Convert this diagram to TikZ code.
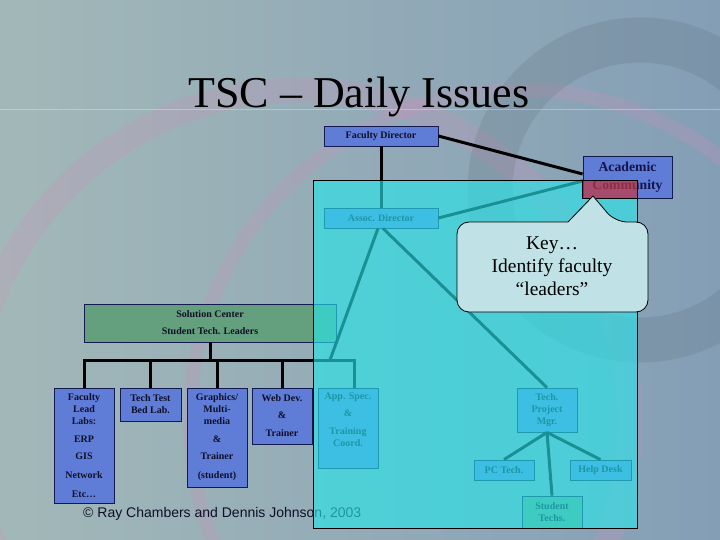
\documentclass[tikz,border=0pt]{standalone}
\usepackage{fontspec}
\setmainfont{Liberation Serif}
\setsansfont{Liberation Sans}
\usepackage{xcolor}
\usepackage{tikz}

\definecolor{bgleft}{RGB}{162,184,184}
\definecolor{bgright}{RGB}{132,158,182}
\definecolor{boxblue}{RGB}{95,125,215}
\definecolor{boxline}{RGB}{20,25,80}
\definecolor{boxgreen}{RGB}{100,160,125}
\definecolor{boxtext}{RGB}{15,15,40}
\definecolor{tealtint}{RGB}{40,230,235}
\definecolor{redtint}{RGB}{195,55,65}
\definecolor{keyfill}{RGB}{192,226,230}
\definecolor{acadtext}{RGB}{20,20,75}
\definecolor{pinkring}{RGB}{205,145,185}
\definecolor{darkring}{RGB}{85,100,110}

\pgfdeclarelayer{backdrop}
\pgfdeclarelayer{tint}
\pgfdeclarelayer{front}
\pgfsetlayers{backdrop,main,tint,front}

\begin{document}
\begin{tikzpicture}[x=1pt,y=-1pt,
    orgbox/.style={draw=boxline, fill=boxblue, line width=0.8pt, inner sep=0pt, align=center,
      text=boxtext, font=\bfseries\fontsize{10}{12}\selectfont},
    orgline/.style={line width=3pt, black}]
            \useasboundingbox (0,0) rectangle (720,540);
            % slide background
            \begin{pgfonlayer}{backdrop}
            \shade [left color=bgleft, right color=bgright] (0,0) rectangle (720,540);
            \begin{scope}
            \clip (0,0) rectangle (720,540);
            \draw [line width=25, pinkring, opacity=.25] (300,420) circle (330);
            \draw [line width=14, pinkring, opacity=.25] (520,420) circle (330);
            \draw [line width=45, darkring, opacity=.18] (640,190) circle (150);
            \draw [line width=1, white, opacity=.3] (0,110) -- (720,110);
            \end{scope}
            \end{pgfonlayer}
            \node [font=\fontsize{44}{44}\selectfont, anchor=base] (title) at (359,108) {TSC – Daily Issues};
            % boxes
            \begin{pgfonlayer}{front}
            \node [orgbox, font=\bfseries\fontsize{13.7}{18}\selectfont, text=acadtext, minimum width=89, minimum height=42] (acad) at (627.5,177) {Academic\\Community};
            \end{pgfonlayer}
            \node [orgbox, minimum width=114, minimum height=20] (fdir) at (381,136) {Faculty Director};
            \node [orgbox, minimum width=114, minimum height=20] (adir) at (381,218) {Assoc. Director};
            \node [orgbox, fill=boxgreen, minimum width=252, minimum height=38] (solc) at (210,323) {Solution Center\\[5pt]Student Tech. Leaders};
            \node [orgbox, minimum width=60, minimum height=115] (flab) at (84,445.5) {Faculty\\Lead\\Labs:\\[6pt]ERP\\[5pt]GIS\\[7pt]Network\\[7pt]Etc…};
            \node [orgbox, minimum width=61, minimum height=33] (ttest) at (150.5,404.5) {Tech Test\\Bed Lab.};
            \node [orgbox, minimum width=60, minimum height=99] (graph) at (217,437.5) {Graphics/\\Multi-\\media\\[6pt]\&\\[5pt]Trainer\\[7pt](student)};
            \node [orgbox, minimum width=60, minimum height=56] (webdev) at (282,416) {Web Dev.\\[5pt]\&\\[6pt]Trainer};
            \node [orgbox, minimum width=60, minimum height=80] (appspec) at (348,428) {App. Spec.\\[5pt]\&\\[6pt]Training\\Coord.\\[5pt]\mbox{}};
            \node [orgbox, minimum width=60, minimum height=44] (tpm) at (547,410) {Tech.\\Project\\Mgr.};
            \node [orgbox, minimum width=60, minimum height=20] (pctech) at (504,470) {PC Tech.};
            \node [orgbox, minimum width=61, minimum height=20] (help) at (600.5,470) {Help Desk};
            \node [orgbox, fill=boxgreen, minimum width=60, minimum height=32] (stud) at (552,512) {Student\\Techs.};
            % connectors
            \draw [orgline] (fdir.east) -- ([yshift=3pt]acad.west);
            \draw [orgline] (fdir) -- (adir);
            \draw [orgline] (adir.east) -- ([yshift=-4pt]acad.west);
            \draw [orgline] (solc.south) -- ++(0,18) coordinate (bus);
            \foreach \b in {flab,ttest,graph,webdev}
                \draw [orgline] (\b.north) |- (bus);
            \draw [orgline] ([xshift=6pt]appspec.north) |- (bus);
            \coordinate (join) at (330,360);
            \draw [orgline] ([xshift=-3pt]adir.south) -- (join);
            \draw [orgline] ([xshift=2pt]adir.south) -- (tpm.north);
            \draw [orgline] (tpm.south) -- (pctech.north);
            \draw [orgline] (tpm.south) -- (help.north);
            \draw [orgline] (tpm.south) -- (stud.north);
            \node [font=\sffamily\fontsize{14}{16}\selectfont, anchor=base west, inner sep=0pt, text=boxtext] (copy) at (83,517) {© Ray Chambers and Dennis Johnson, 2003};
            % teal panel
            \begin{pgfonlayer}{tint}
            \draw [fill=tealtint, fill opacity=.63, line width=0.8pt] (313,180) rectangle (637,528);
            \end{pgfonlayer}
            \begin{pgfonlayer}{front}
            \draw [fill=redtint, fill opacity=.7, line width=0.8pt] (acad.south west) rectangle (637,180);
            % key callout
            \draw [fill=keyfill, line width=0.8pt] (568,222) [rounded corners=12pt] -- (457,222) -- (457,312) -- (648,312) -- (648,222) -- (615,222) [sharp corners] -- (593,196) -- cycle;
            \node [font=\fontsize{19.5}{23}\selectfont, align=center, text=black] (key) at (552,266) {Key…\\Identify faculty\\“leaders”};
            \end{pgfonlayer}
        \end{tikzpicture}
\end{document}
